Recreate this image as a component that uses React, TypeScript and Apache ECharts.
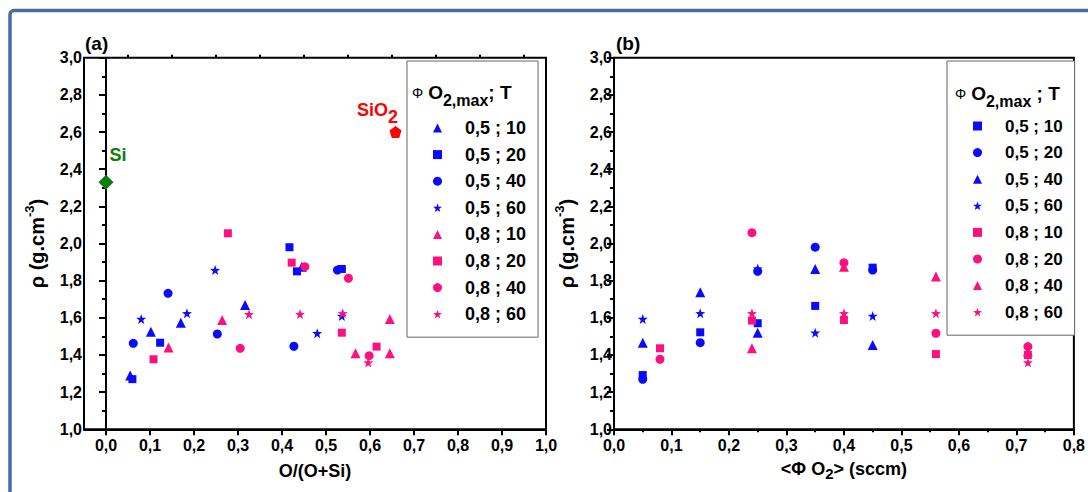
import React, { useEffect, useRef } from "react";
import * as echarts from "echarts";

const FONT = '"Liberation Sans", Arial, Helvetica, sans-serif';
const BLUE = "#0a0aff";
const PINK = "#ff1080";
const GREEN = "#0a7d0a";
const RED = "#ff0000";

const STAR = "path://M0,-1L0.235,-0.324L0.951,-0.309L0.38,0.124L0.588,0.809L0,0.4L-0.588,0.809L-0.38,0.124L-0.951,-0.309L-0.235,-0.324Z";
const PENTA = "path://M0,-1L0.951,-0.309L0.588,0.809L-0.588,0.809L-0.951,-0.309Z";

// tick labels
const yTicks = [1.0, 1.2, 1.4, 1.6, 1.8, 2.0, 2.2, 2.4, 2.6, 2.8, 3.0];
const xTicksA = [0, 0.1, 0.2, 0.3, 0.4, 0.5, 0.6, 0.7, 0.8, 0.9, 1.0];
const xMinorA = [0.05, 0.15, 0.25, 0.35, 0.45, 0.55, 0.65, 0.75, 0.85, 0.95];

// legend labels
const legendLabels = ["0,5 ; 10", "0,5 ; 20", "0,5 ; 40", "0,5 ; 60", "0,8 ; 10", "0,8 ; 20", "0,8 ; 40", "0,8 ; 60"];

// (a) rho vs O/(O+Si)
const a05_10 = [[0.055, 1.29], [0.102, 1.525], [0.17, 1.574], [0.316, 1.669], [0.445, 1.875]];
const a05_20 = [[0.06, 1.27], [0.123, 1.466], [0.417, 1.98], [0.434, 1.85], [0.536, 1.863]];
const a05_40 = [[0.062, 1.463], [0.141, 1.732], [0.253, 1.513], [0.427, 1.447], [0.526, 1.857]];
const a05_60 = [[0.08, 1.594], [0.184, 1.624], [0.248, 1.857], [0.48, 1.517], [0.536, 1.61]];
const a08_10 = [[0.142, 1.44], [0.264, 1.588], [0.567, 1.409], [0.645, 1.594], [0.645, 1.409]];
const a08_20 = [[0.108, 1.377], [0.277, 2.055], [0.422, 1.897], [0.536, 1.52], [0.615, 1.445]];
const a08_40 = [[0.305, 1.436], [0.452, 1.875], [0.551, 1.813], [0.598, 1.396]];
const a08_60 = [[0.325, 1.619], [0.441, 1.62], [0.538, 1.624], [0.596, 1.36]];
const siPoint = [[0.0, 2.33]];
const sio2Point = [[0.658, 2.6]];

// (b) rho vs <Phi O2>
const b05_10 = [[0.05, 1.292], [0.15, 1.522], [0.25, 1.571], [0.35, 1.664], [0.45, 1.87]];
const b05_20 = [[0.05, 1.269], [0.15, 1.466], [0.25, 1.85], [0.35, 1.98], [0.45, 1.857]];
const b05_40 = [[0.05, 1.466], [0.15, 1.737], [0.25, 1.52], [0.35, 1.863], [0.45, 1.454]];
const b05_60 = [[0.05, 1.594], [0.15, 1.624], [0.25, 1.865], [0.35, 1.52], [0.45, 1.61]];
const b08_10 = [[0.08, 1.436], [0.24, 1.585], [0.4, 1.588], [0.56, 1.405], [0.72, 1.4]];
const b08_20 = [[0.08, 1.377], [0.24, 2.058], [0.4, 1.897], [0.56, 1.517], [0.72, 1.445]];
const b08_40 = [[0.24, 1.436], [0.4, 1.875], [0.56, 1.822], [0.72, 1.42]];
const b08_60 = [[0.24, 1.624], [0.4, 1.624], [0.56, 1.624], [0.72, 1.36]];

const fmt = (v: number) => v.toFixed(1).replace(".", ",");

export default function App() {
  const ref = useRef<HTMLDivElement>(null);
  useEffect(() => {
    const chart = echarts.init(ref.current!, null, { renderer: "svg" });

    const symA: Record<string, [string, number, string]> = {
      "0,5 ; 10": ["triangle", 10, BLUE],
      "0,5 ; 20": ["rect", 8, BLUE],
      "0,5 ; 40": ["circle", 9, BLUE],
      "0,5 ; 60": [STAR, 10, BLUE],
      "0,8 ; 10": ["triangle", 10, PINK],
      "0,8 ; 20": ["rect", 8, PINK],
      "0,8 ; 40": ["circle", 9, PINK],
      "0,8 ; 60": [STAR, 10, PINK],
    };
    const symB: Record<string, [string, number, string]> = {
      "0,5 ; 10": ["rect", 8, BLUE],
      "0,5 ; 20": ["circle", 9, BLUE],
      "0,5 ; 40": ["triangle", 10, BLUE],
      "0,5 ; 60": [STAR, 10, BLUE],
      "0,8 ; 10": ["rect", 8, PINK],
      "0,8 ; 20": ["circle", 9, PINK],
      "0,8 ; 40": ["triangle", 10, PINK],
      "0,8 ; 60": [STAR, 10, PINK],
    };
    const dataA = [a05_10, a05_20, a05_40, a05_60, a08_10, a08_20, a08_40, a08_60];
    const dataB = [b05_10, b05_20, b05_40, b05_60, b08_10, b08_20, b08_40, b08_60];

    const seriesA = legendLabels.map((lab, i) => ({
      type: "scatter",
      name: "a#" + lab,
      xAxisIndex: 0,
      yAxisIndex: 0,
      symbol: symA[lab][0],
      symbolSize: symA[lab][1],
      itemStyle: { color: symA[lab][2], opacity: 1 },
      data: dataA[i],
    }));
    const seriesB = legendLabels.map((lab, i) => ({
      type: "scatter",
      name: "b#" + lab,
      xAxisIndex: 2,
      yAxisIndex: 1,
      symbol: symB[lab][0],
      symbolSize: symB[lab][1],
      itemStyle: { color: symB[lab][2], opacity: 1 },
      data: dataB[i],
    }));

    const tickLabel = {
      fontSize: 16,
      fontWeight: "bold",
      fontFamily: FONT,
      color: "#000",
    };
    const axisLine = { show: true, lineStyle: { color: "#000", width: 2 } };

    const yAxisBase = (gridIndex: number) => ({
      type: "value",
      gridIndex,
      min: 1,
      max: 3,
      interval: 0.2,
      axisLine,
      axisTick: { show: true, length: 7, lineStyle: { color: "#000", width: 2 } },
      minorTick: { show: true, splitNumber: 2, length: 4, lineStyle: { color: "#000", width: 2 } },
      splitLine: { show: false },
      axisLabel: { ...tickLabel, margin: 2, formatter: (v: number) => fmt(v) },
      name: "{n|ρ (g.cm}{sup|-3}{n|)}",
      nameLocation: "middle",
      nameRotate: 90,
      nameGap: 37,
      nameTextStyle: {
        rich: {
          n: { fontSize: 20, fontWeight: "bold", fontFamily: FONT, color: "#000", lineHeight: 24, padding: [5, 0, 0, 0], verticalAlign: "bottom" },
          sup: { fontSize: 13, fontWeight: "bold", fontFamily: FONT, color: "#000", lineHeight: 14, verticalAlign: "top" },
        },
      },
    });

    const legendBase = (names: string[], left: number, padTop: number, fontSize: number, textPad: number, padLeft: number) => ({
      show: true,
      orient: "vertical",
      left,
      top: 61,
      padding: [padTop, 12, 13, padLeft],
      itemWidth: 9,
      itemHeight: 9,
      itemGap: 6.6,
      selectedMode: false,
      borderColor: "#666",
      borderWidth: 1,
      backgroundColor: "#fff",
      formatter: (name: string) => name.split("#")[1],
      textStyle: {
        fontSize,
        fontWeight: "bold",
        fontFamily: FONT,
        color: "#000",
        lineHeight: 20,
        padding: [0, 0, 0, textPad],
      },
      data: names,
    });

    const titleRich = (fs: number) => ({
      phi: { fontSize: 14, fontFamily: FONT, color: "#000", lineHeight: 22, verticalAlign: "top", padding: [3, 5, 0, 0] },
      b: { fontSize: fs, fontWeight: "bold", fontFamily: FONT, color: "#000", lineHeight: 22, verticalAlign: "top" },
      sub: { fontSize: fs - 3, fontWeight: "bold", fontFamily: FONT, color: "#000", lineHeight: 22, verticalAlign: "top", padding: [9, 0, 0, 0] },
    });

    const option: any = {
      animation: false,
      backgroundColor: "#fff",
      textStyle: { fontFamily: FONT },
      grid: [
        { left: 84, top: 57.7, width: 462, height: 371.6, show: true, borderColor: "#000", borderWidth: 2, containLabel: false },
        { left: 614, top: 57.7, width: 461.5, height: 371.6, show: true, borderColor: "#000", borderWidth: 2, containLabel: false },
      ],
      xAxis: [
        {
          type: "value",
          gridIndex: 0,
          min: -0.05,
          max: 1.0,
          axisLine,
          axisTick: { show: true, length: 6, customValues: xTicksA, lineStyle: { color: "#000", width: 2 } },
          splitLine: { show: false },
          axisLabel: { ...tickLabel, margin: 8, customValues: xTicksA, formatter: (v: number) => fmt(v) },
          name: "O/(O+Si)",
          nameLocation: "middle",
          nameGap: 33,
          nameTextStyle: { fontSize: 18, fontWeight: "bold", fontFamily: FONT, color: "#000" },
        },
        {
          type: "value",
          gridIndex: 0,
          min: -0.05,
          max: 1.0,
          axisLine: { show: false },
          axisTick: { show: true, length: 3, customValues: xMinorA, lineStyle: { color: "#000", width: 2 } },
          splitLine: { show: false },
          axisLabel: { show: false },
        },
        {
          type: "value",
          gridIndex: 1,
          min: 0,
          max: 0.8,
          interval: 0.1,
          axisLine,
          axisTick: { show: true, length: 6, lineStyle: { color: "#000", width: 2 } },
          minorTick: { show: true, splitNumber: 2, length: 3, lineStyle: { color: "#000", width: 2 } },
          splitLine: { show: false },
          axisLabel: { ...tickLabel, margin: 8, formatter: (v: number) => fmt(v) },
          name: "{b|<Φ O}{sub|2}{b|> (sccm)}",
          nameLocation: "middle",
          nameGap: 31,
          nameTextStyle: {
            rich: {
              b: { fontSize: 18, fontWeight: "bold", fontFamily: FONT, color: "#000", lineHeight: 20, verticalAlign: "top" },
              sub: { fontSize: 15, fontWeight: "bold", fontFamily: FONT, color: "#000", lineHeight: 20, verticalAlign: "top", padding: [6, 0, 0, 0] },
            },
          },
        },
      ],
      yAxis: [yAxisBase(0), yAxisBase(1)],
      legend: [
        legendBase(legendLabels.map((l) => "a#" + l), 407, 57, 18, 18, 26),
        legendBase(legendLabels.map((l) => "b#" + l), 947, 55, 17, 18, 26),
      ],
      series: [
        ...seriesA,
        ...seriesB,
        {
          type: "scatter",
          name: "Si",
          xAxisIndex: 0,
          yAxisIndex: 0,
          symbol: "diamond",
          symbolSize: 15,
          itemStyle: { color: GREEN, opacity: 1 },
          data: siPoint,
          label: {
            show: true,
            position: "top",
            offset: [12, -6],
            formatter: "Si",
            fontSize: 18,
            fontWeight: "bold",
            fontFamily: FONT,
            color: GREEN,
          },
        },
        {
          type: "scatter",
          name: "SiO2",
          xAxisIndex: 0,
          yAxisIndex: 0,
          symbol: PENTA,
          symbolSize: 12,
          itemStyle: { color: RED, opacity: 1 },
          data: sio2Point,
          label: {
            show: true,
            position: "top",
            offset: [-18, 0],
            formatter: "{m|SiO}{s|2}",
            rich: {
              m: { fontSize: 18, fontWeight: "bold", fontFamily: FONT, color: RED, lineHeight: 20, verticalAlign: "top" },
              s: { fontSize: 18, fontWeight: "bold", fontFamily: FONT, color: RED, lineHeight: 20, verticalAlign: "top", padding: [7, 0, 0, 0] },
            },
          },
        },
      ],
      graphic: [
        {
          type: "rect",
          shape: { x: 10, y: 10.5, width: 1200, height: 600, r: 4 },
          style: { fill: "none", stroke: "#4a6b9d", lineWidth: 3.5 },
          silent: true,
          z: 100,
        },
        {
          type: "text",
          left: 85,
          top: 34,
          style: { text: "(a)", fontSize: 19, fontWeight: "bold", fontFamily: FONT, fill: "#000" },
        },
        {
          type: "text",
          left: 616,
          top: 34,
          style: { text: "(b)", fontSize: 19, fontWeight: "bold", fontFamily: FONT, fill: "#000" },
        },
        {
          type: "text",
          x: 412,
          y: 83,
          z: 100,
          style: { text: "{phi|Φ}{b|O}{sub|2,max}{b|; T}", rich: titleRich(19) },
        },
        {
          type: "text",
          x: 955,
          y: 84,
          z: 100,
          style: { text: "{phi|Φ}{b|O}{sub|2,max}{b| ; T}", rich: titleRich(19) },
        },
      ],
    };

    chart.setOption(option);
    return () => chart.dispose();
  }, []);

  return (
    <div
      ref={ref}
      style={{ position: "fixed", left: 0, top: 0, width: 1088, height: 492, background: "#fff" }}
    />
  );
}
